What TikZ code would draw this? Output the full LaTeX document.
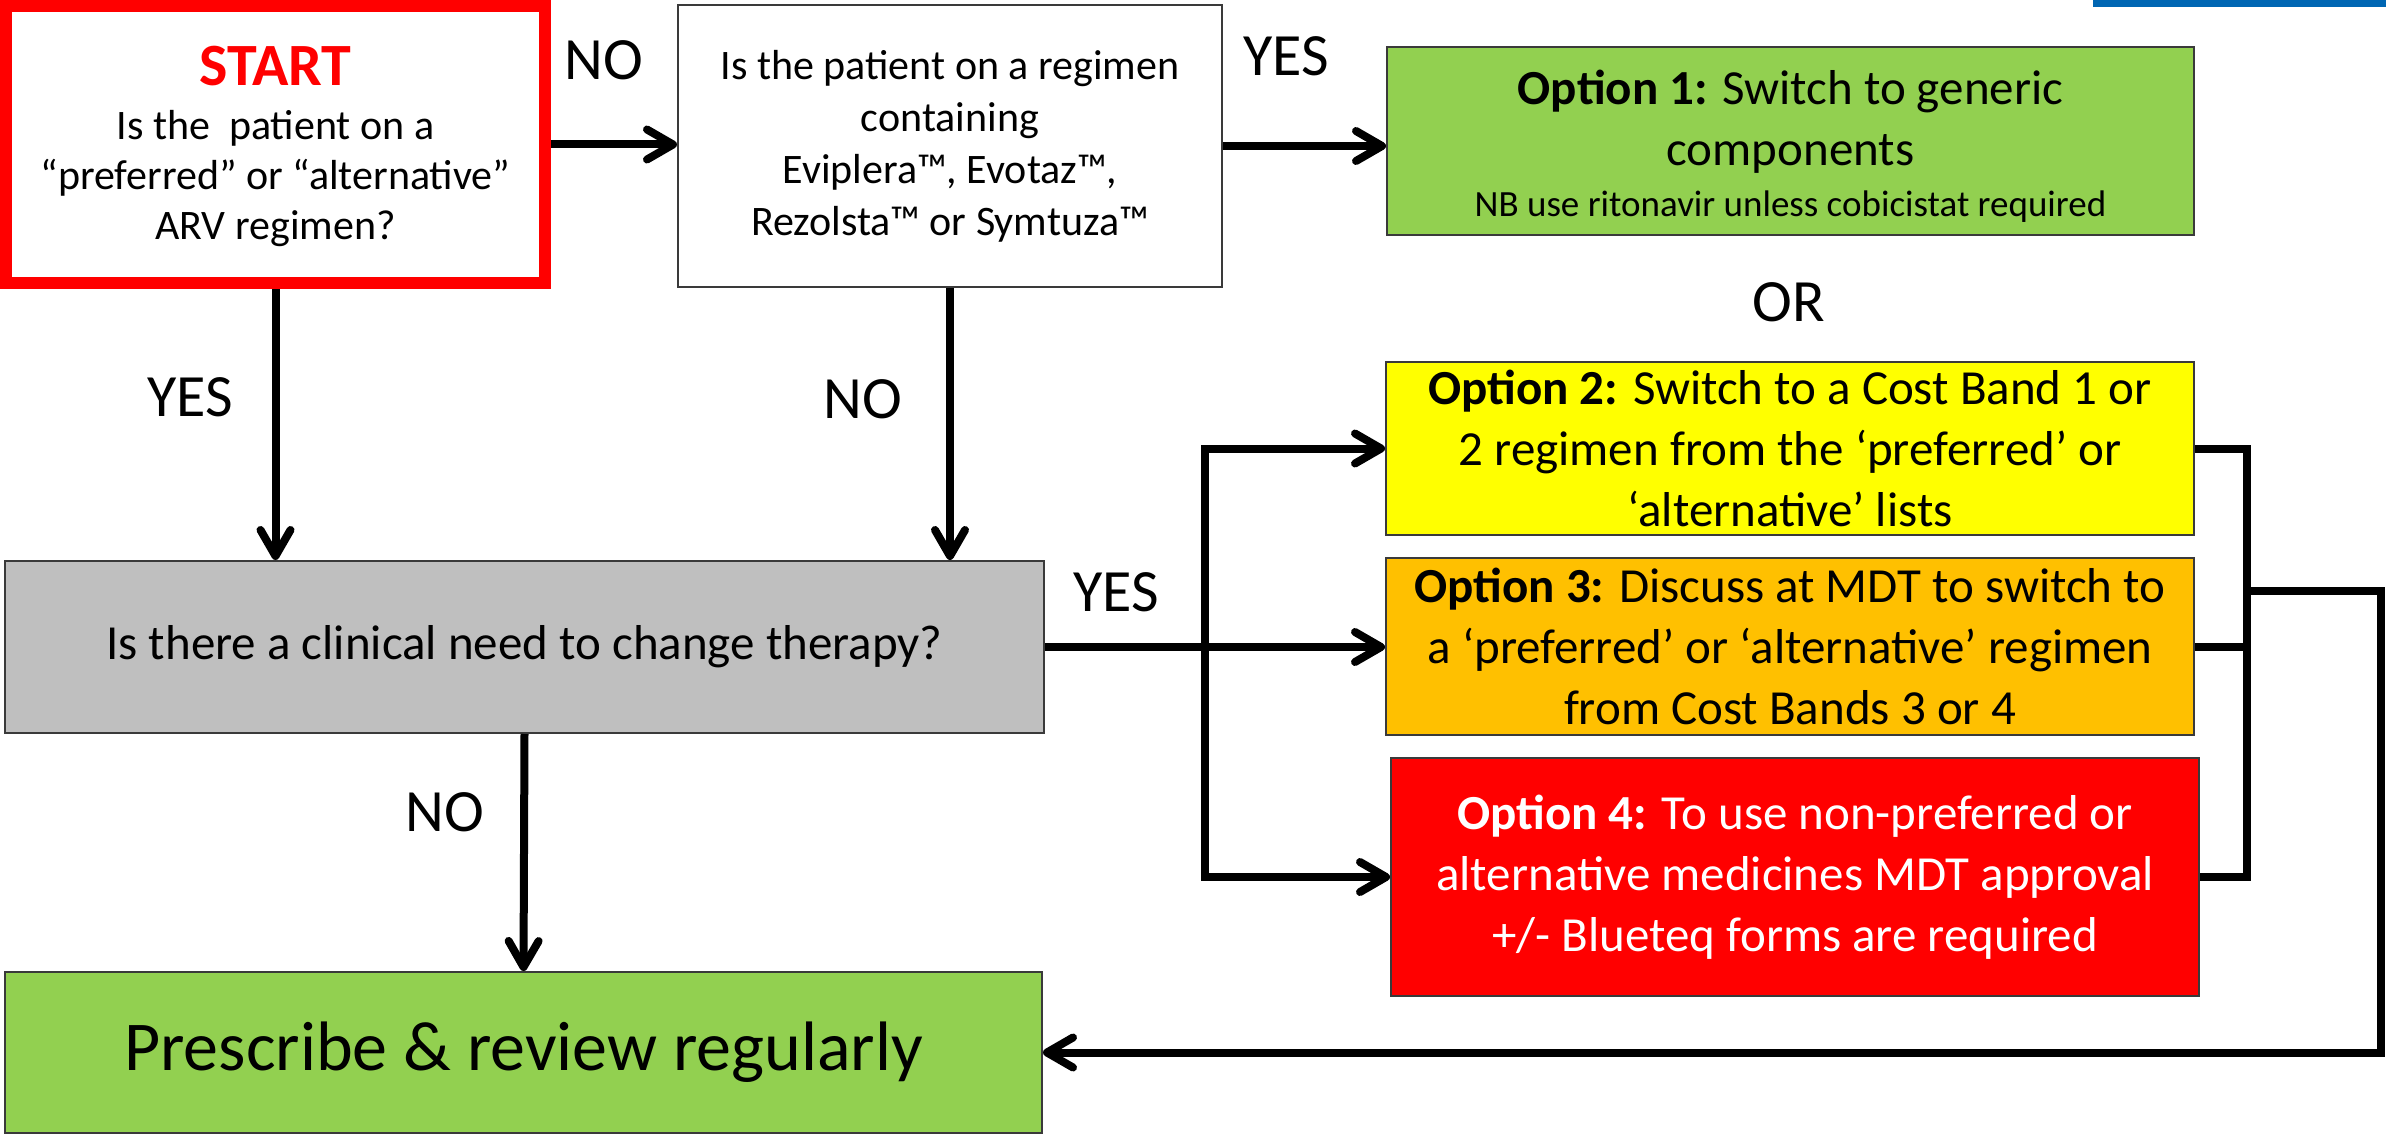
\documentclass[tikz,border=0pt]{standalone}
\usepackage{fontspec}
\setmainfont{Carlito}
\usetikzlibrary{arrows.meta}
\definecolor{cgreen}{HTML}{92D050}
\definecolor{cyellow}{HTML}{FFFF00}
\definecolor{corange}{HTML}{FFC000}
\definecolor{cred}{HTML}{FF0000}
\definecolor{cgray}{HTML}{BFBFBF}
\definecolor{cblue}{HTML}{0066B3}
\definecolor{cborder}{HTML}{3A3A3A}
\begin{document}
\begin{tikzpicture}[x=1pt,y=-1pt,
  box/.style={draw=cborder, line width=2pt, inner sep=0pt, outer sep=1pt, align=center, text=black},
  optfont/.style={font=\fontsize{49}{61}\selectfont},
  lbl/.style={font=\fontsize{60}{72}\selectfont, inner sep=0pt},
  conn/.style={line width=8pt, -{Straight Barb[length=26pt,width=30pt,round]}},
  wire/.style={line width=8pt},
]
\useasboundingbox (0,0) rectangle (2386,1134);

\node[box, draw=cred, line width=12pt, outer sep=6pt, minimum width=539pt, minimum height=277pt, font=\fontsize{42}{50}\selectfont] (start) at (275.5,144.5)
  {\rule{0pt}{43.5pt}{\fontsize{60}{60}\selectfont\bfseries\color{cred}START}\\[4.5pt] Is the~ patient on a\\ “preferred” or “alternative”\\ ARV regimen?};

\node[box, fill=white, minimum width=544pt, minimum height=282pt, font=\fontsize{42}{52}\selectfont] (q2) at (950,146)
  {Is the patient on a regimen\\ containing\\ Eviplera™, Evotaz™,\\ Rezolsta™ or Symtuza™};

\node[box, fill=cgreen, minimum width=807pt, minimum height=188pt, optfont] (opt1) at (1790.5,141)
  {\rule{0pt}{44pt}\textbf{Option 1:} Switch to generic\\ components\\[-10pt] {\fontsize{37}{45}\selectfont NB use ritonavir unless cobicistat required}};

\node[lbl] (or) at (1789,302) {OR};

\node[box, fill=cyellow, minimum width=808pt, minimum height=173pt, optfont] (opt2) at (1790,448.5)
  {\textbf{Option 2:} Switch to a Cost Band 1 or\\ 2 regimen from the ‘preferred’ or\\ ‘alternative’ lists};

\node[box, fill=corange, minimum width=808pt, minimum height=177pt, optfont] (opt3) at (1790,646.5)
  {\textbf{Option 3:} Discuss at MDT to switch to\\ a ‘preferred’ or ‘alternative’ regimen\\ from Cost Bands 3 or 4};

\node[box, fill=cred, text=white, minimum width=808pt, minimum height=238pt, optfont] (opt4) at (1795,877)
  {\textbf{Option 4:} To use non-preferred or\\ alternative medicines MDT approval\\ +/- Blueteq forms are required};

\node[box, fill=cgray, minimum width=1039pt, minimum height=172pt, optfont] (gray) at (524.5,647)
  {Is there a clinical need to change therapy?};

\node[box, fill=cgreen, minimum width=1037pt, minimum height=161pt, font=\fontsize{70}{84}\selectfont] (presc) at (523.5,1052.5)
  {Prescribe \& review regularly};

\node[lbl] (l1) at (604,60) {NO};
\node[lbl] (l2) at (1286,56) {YES};
\node[lbl] (l3) at (190,397) {YES};
\node[lbl] (l4) at (863,399) {NO};
\node[lbl] (l5) at (1116,592) {YES};
\node[lbl] (l6) at (445,812) {NO};

\fill[cblue] (2093,0) rectangle (2386,7);

\draw[conn] (start.east) -- (start.east -| q2.west);
\draw[conn] (q2.east) -- (q2.east -| opt1.west);
\draw[conn] (start.south) -- (start.south |- gray.north);
\draw[conn] (q2.south) -- (q2.south |- gray.north);
\draw[conn] (gray.east) -- (gray.east -| opt3.west);
\draw[conn] (gray.south) -- (presc.north);

\coordinate (lbx) at (1205,0);
\draw[conn] (opt4.west -| lbx) -- (opt2.west -| lbx) -- (opt2.west);
\draw[conn] (opt2.west -| lbx) -- (opt4.west -| lbx) -- (opt4.west);

\coordinate (rbx) at (2247,0);
\draw[wire] (opt2.east) -- (opt2.east -| rbx) -- (opt4.east -| rbx) -- (opt4.east);
\draw[wire] (opt3.east) -- (opt3.east -| rbx);
\coordinate (rm) at (2247,591);
\coordinate (fr) at (2381,591);
\draw[conn] (rm) -- (fr) -- (fr |- presc.east) -- (presc.east);
\end{tikzpicture}
\end{document}
